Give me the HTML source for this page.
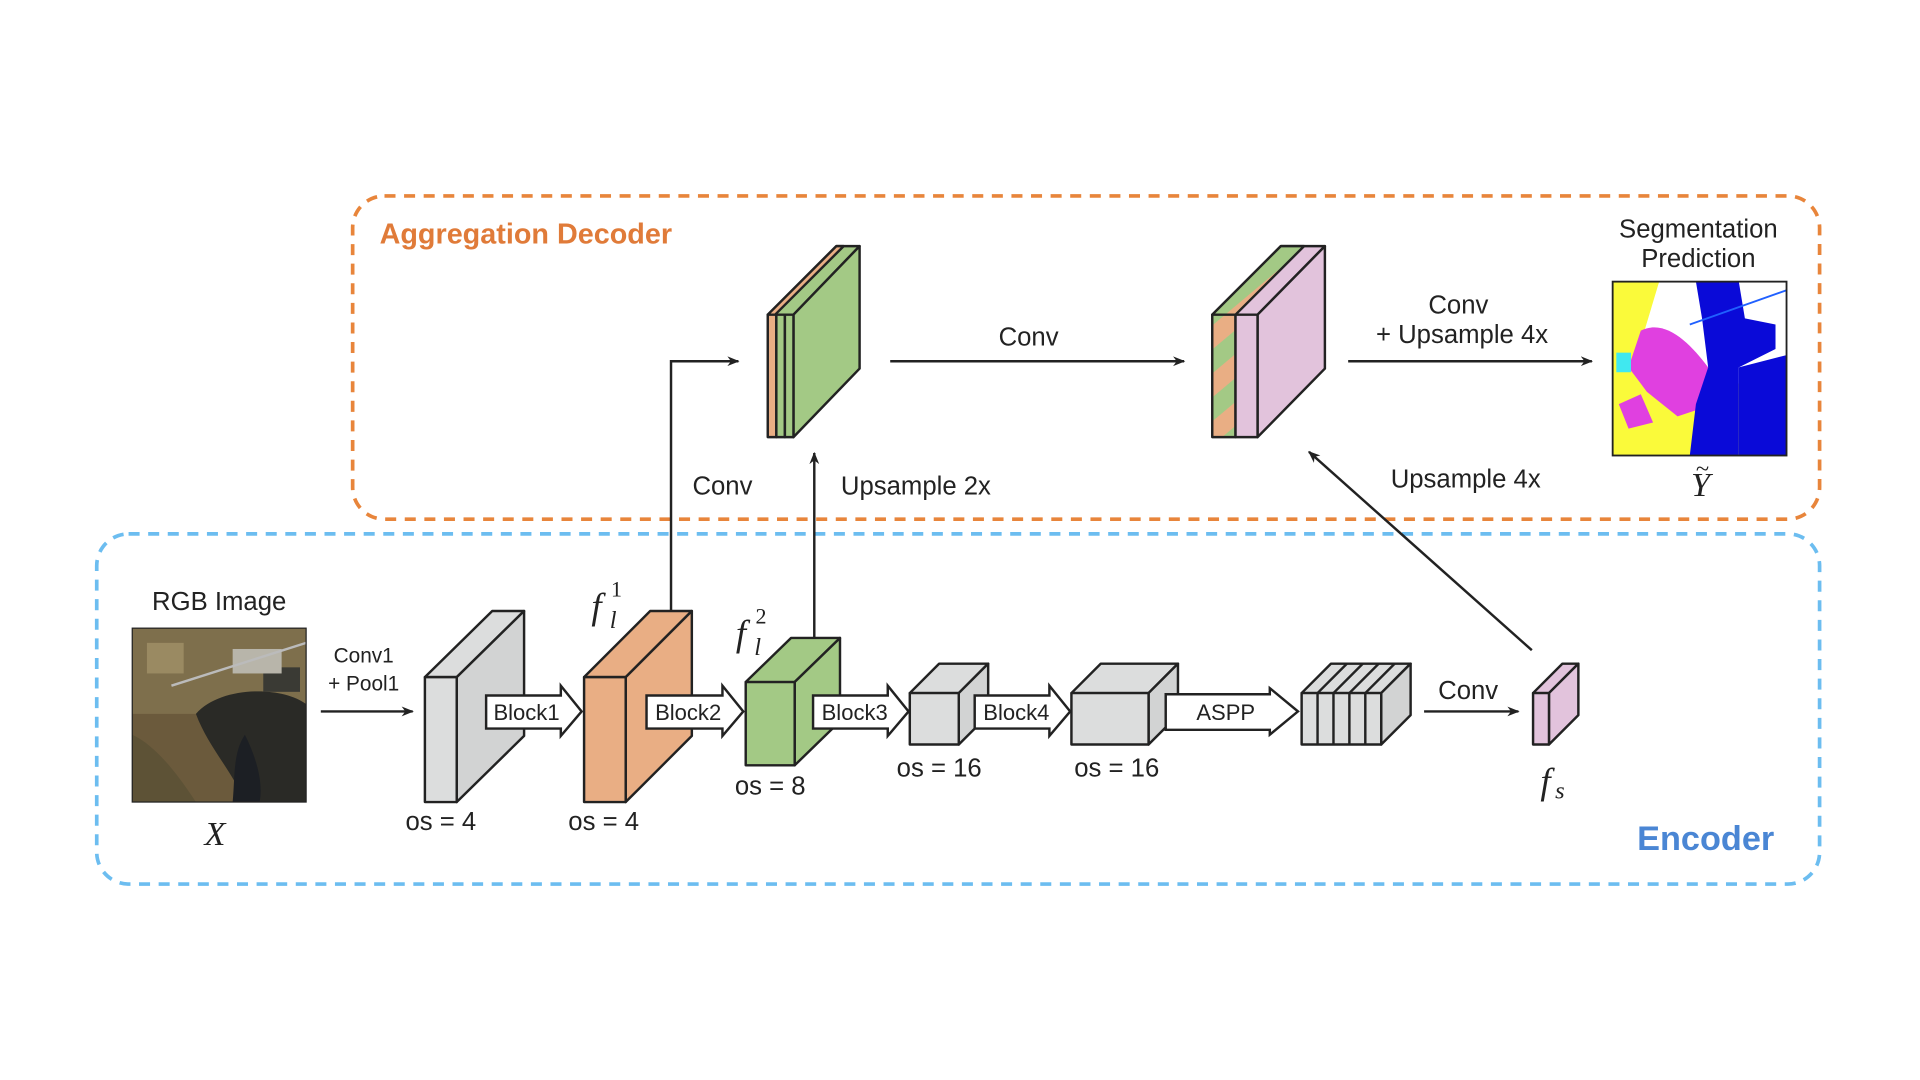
<!DOCTYPE html>
<html><head><meta charset="utf-8"><style>html,body{margin:0;padding:0;background:#fff;width:1920px;height:1080px;overflow:hidden}</style></head>
<body>
<svg width="1920" height="1080" viewBox="0 0 1568 882" xmlns="http://www.w3.org/2000/svg" font-family="Liberation Sans, sans-serif">
<defs>
<marker id="ar" markerWidth="10" markerHeight="10" refX="9" refY="5" orient="auto" markerUnits="userSpaceOnUse"><path d="M0,1 L10,5 L0,9 L3,5 z" fill="#222"/></marker>
<pattern id="stripe" width="30" height="30" patternUnits="userSpaceOnUse" patternTransform="rotate(-40)"><rect width="30" height="30" fill="#a3c985"/><rect width="30" height="15" fill="#e9ae84"/></pattern>
</defs>
<rect width="1568" height="882" fill="#fff"/>
<rect x="288" y="160" width="1198" height="264" rx="26" fill="none" stroke="#e8853b" stroke-width="3" stroke-dasharray="9 7"/>
<rect x="79" y="436" width="1407" height="286" rx="26" fill="none" stroke="#6cbdf0" stroke-width="3" stroke-dasharray="9 7"/>
<text x="310" y="199" font-size="23.5" font-weight="bold" fill="#e07b39">Aggregation Decoder</text>
<text x="1337" y="694" font-size="28" font-weight="bold" fill="#4a86d4">Encoder</text>

<g stroke="#222" stroke-width="2" stroke-linejoin="round">
<polygon points="347,553 402,499 428,499 373,553" fill="#dcdddd"/>
<polygon points="373,553 428,499 428,601 373,655" fill="#d2d3d3"/>
<rect x="347" y="553" width="26" height="102" fill="#dcdddd"/>
<polygon points="477,553 531,499 565,499 511,553" fill="#e9ae84"/>
<polygon points="511,553 565,499 565,601 511,655" fill="#e9ae84"/>
<rect x="477" y="553" width="34" height="102" fill="#e9ae84"/>
<polygon points="609,557 646,521 686,521 649,557" fill="#a3c985"/>
<polygon points="649,557 686,521 686,589 649,625" fill="#a3c985"/>
<rect x="609" y="557" width="40" height="68" fill="#a3c985"/>
<polygon points="743,566 767,542 807,542 783,566" fill="#dcdddd"/>
<polygon points="783,566 807,542 807,584 783,608" fill="#d2d3d3"/>
<rect x="743" y="566" width="40" height="42" fill="#dcdddd"/>
<polygon points="875,566 899,542 962,542 938,566" fill="#dcdddd"/>
<polygon points="938,566 962,542 962,584 938,608" fill="#d2d3d3"/>
<rect x="875" y="566" width="63" height="42" fill="#dcdddd"/>
<polygon points="1063,566 1087,542 1152,542 1128,566" fill="#dcdddd"/>
<polygon points="1128,566 1152,542 1152,584 1128,608" fill="#d2d3d3"/>
<rect x="1063" y="566" width="65" height="42" fill="#dcdddd"/>
<line x1="1076" y1="566" x2="1076" y2="608"/><line x1="1089" y1="566" x2="1089" y2="608"/><line x1="1102" y1="566" x2="1102" y2="608"/><line x1="1115" y1="566" x2="1115" y2="608"/>
<line x1="1076" y1="566" x2="1100" y2="542"/><line x1="1089" y1="566" x2="1113" y2="542"/><line x1="1102" y1="566" x2="1126" y2="542"/><line x1="1115" y1="566" x2="1139" y2="542"/>
<polygon points="1252,566 1276,542 1289,542 1265,566" fill="#e2c3dc"/>
<polygon points="1265,566 1289,542 1289,584 1265,608" fill="#e2c3dc"/>
<rect x="1252" y="566" width="13" height="42" fill="#e2c3dc"/>
<polygon points="627,257 683,201 702,201 648,257" fill="#a3c985"/>
<polygon points="627,257 683,201 689,201 633,257" fill="#e9ae84"/>
<polygon points="648,257 702,201 702,301 648,357" fill="#a3c985"/>
<rect x="627" y="257" width="7" height="100" fill="#e9ae84"/>
<rect x="634" y="257" width="7" height="100" fill="#a3c985"/>
<rect x="641" y="257" width="7" height="100" fill="#a3c985"/>
<polygon points="990,257 1046,201 1082,201 1027,257" fill="#e2c3dc"/>
<polygon points="990,257 1046,201 1065,201 1009,257" fill="url(#stripe)"/>
<polygon points="1027,257 1082,201 1082,301 1027,357" fill="#e2c3dc"/>
<rect x="990" y="257" width="19" height="100" fill="url(#stripe)"/>
<rect x="1009" y="257" width="18" height="100" fill="#e2c3dc"/>
</g>

<g stroke="#222" stroke-width="2" fill="#fff" stroke-linejoin="miter">
<polygon points="397,568 458,568 458,560 475,581 458,601 458,595 397,595"/>
<polygon points="528,568 590,568 590,560 607,581 590,601 590,595 528,595"/>
<polygon points="664,568 725,568 725,560 742,581 725,601 725,595 664,595"/>
<polygon points="796,568 857,568 857,560 874,581 857,601 857,595 796,595"/>
<polygon points="952,567 1037,567 1037,562 1060,581 1037,600 1037,596 952,596"/>
</g>
<g font-size="18" fill="#222" text-anchor="middle">
<text x="430" y="588">Block1</text>
<text x="562" y="588">Block2</text>
<text x="698" y="588">Block3</text>
<text x="830" y="588">Block4</text>
<text x="1001" y="588">ASPP</text>
</g>

<g stroke="#222" stroke-width="2" fill="none">
<line x1="262" y1="581" x2="337" y2="581" marker-end="url(#ar)"/>
<line x1="1163" y1="581" x2="1240" y2="581" marker-end="url(#ar)"/>
<polyline points="548,499 548,295 603,295" marker-end="url(#ar)"/>
<line x1="665" y1="521" x2="665" y2="370" marker-end="url(#ar)"/>
<line x1="727" y1="295" x2="967" y2="295" marker-end="url(#ar)"/>
<line x1="1101" y1="295" x2="1300" y2="295" marker-end="url(#ar)"/>
<line x1="1251" y1="531" x2="1069" y2="369" marker-end="url(#ar)"/>
</g>

<g>
<rect x="108" y="513" width="142" height="142" fill="#6b5a3c"/>
<rect x="108" y="513" width="142" height="70" fill="#7e6f4c"/>
<path d="M160,583 C180,560 230,560 250,575 L250,655 L200,655 C190,630 170,610 160,583 z" fill="#2a2a26"/>
<path d="M200,600 C210,620 215,640 212,655 L190,655 C192,635 190,615 200,600z" fill="#1c1f24"/>
<path d="M108,600 C130,610 150,640 160,655 L108,655z" fill="#5d5236"/>
<rect x="120" y="525" width="30" height="25" fill="#9a8a62"/>
<rect x="215" y="545" width="30" height="20" fill="#3a3a34"/>
<rect x="190" y="530" width="40" height="20" fill="#b8b5aa"/>
<line x1="140" y1="560" x2="250" y2="525" stroke="#bbb" stroke-width="2"/>
<rect x="108" y="513" width="142" height="142" fill="none" stroke="#222" stroke-width="1"/>
</g>
<g>
<rect x="1317" y="230" width="142" height="142" fill="#fafa3a"/>
<path d="M1355,230 L1459,230 L1459,300 L1400,320 L1360,300 L1340,280z" fill="#fff"/>
<path d="M1340,270 C1360,260 1380,280 1395,300 L1400,330 L1370,340 L1345,320 L1330,300z" fill="#e040e0"/>
<path d="M1322,330 L1340,322 L1350,345 L1330,350z" fill="#e040e0"/>
<path d="M1385,230 L1420,230 L1425,260 L1450,265 L1450,285 L1420,300 L1420,372 L1380,372 L1385,330 L1395,300 L1390,260z" fill="#0a0ad8"/>
<path d="M1420,300 L1459,290 L1459,372 L1420,372z" fill="#0a0ad8"/>
<rect x="1320" y="288" width="12" height="16" fill="#40e8f0"/>
<line x1="1380" y1="265" x2="1459" y2="237" stroke="#2060ff" stroke-width="1.5"/>
<rect x="1317" y="230" width="142" height="142" fill="none" stroke="#222" stroke-width="1.5"/>
</g>

<g font-size="21" fill="#222" text-anchor="middle">
<text x="179" y="498">RGB Image</text>
<text x="297" y="541" font-size="17">Conv1</text>
<text x="297" y="564" font-size="17">+ Pool1</text>
<text x="360" y="678">os = 4</text>
<text x="493" y="678">os = 4</text>
<text x="629" y="649">os = 8</text>
<text x="767" y="634">os = 16</text>
<text x="912" y="634">os = 16</text>
<text x="1199" y="571">Conv</text>
<text x="590" y="404">Conv</text>
<text x="748" y="404">Upsample 2x</text>
<text x="840" y="282">Conv</text>
<text x="1191" y="256">Conv</text>
<text x="1194" y="280">+ Upsample 4x</text>
<text x="1197" y="398">Upsample 4x</text>
<text x="1387" y="194">Segmentation</text>
<text x="1387" y="218">Prediction</text>
</g>
<g font-family="Liberation Serif, serif" font-style="italic" fill="#222">
<text x="167" y="690" font-size="28">X</text>
<text x="1381" y="405" font-size="28">Y</text>
<text x="1385" y="389" font-size="20" font-style="normal">~</text>
<text x="483" y="505" font-size="30">f</text><text x="499" y="487" font-size="18" font-style="normal">1</text><text x="498" y="513" font-size="20">l</text>
<text x="601" y="527" font-size="30">f</text><text x="617" y="509" font-size="18" font-style="normal">2</text><text x="616" y="535" font-size="20">l</text>
<text x="1258" y="648" font-size="30">f</text><text x="1270" y="652" font-size="20">s</text>
</g>
</svg>
</body></html>
